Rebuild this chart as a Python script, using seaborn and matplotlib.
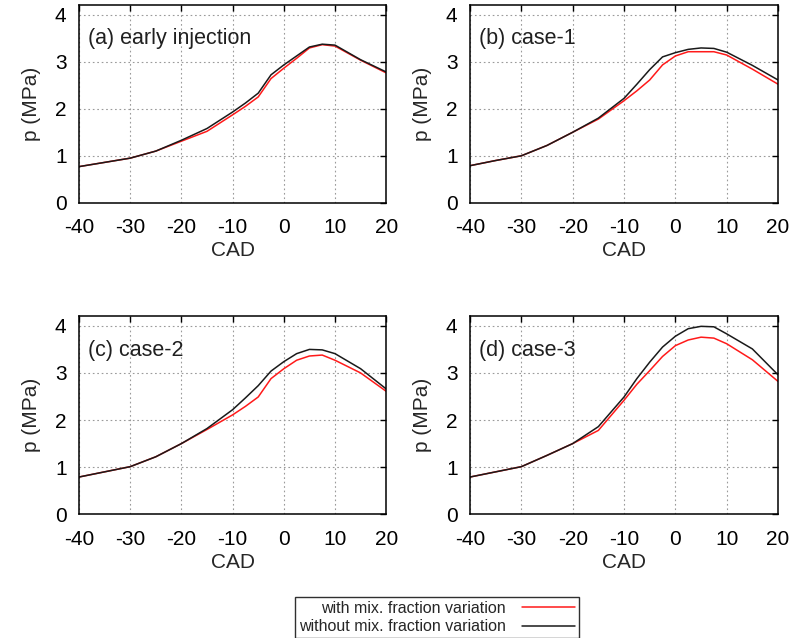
import numpy as np
import pandas as pd
import matplotlib.pyplot as plt
import seaborn as sns

# crank angle positions (CAD)
cad = [-40, -35, -30, -25, -20, -15, -10, -7.5, -5, -2.5, 0, 2.5, 5, 7.5, 10, 15, 20]

# pressure in MPa, red = with mixture fraction variation, black = without
a_with = [0.77, 0.86, 0.95, 1.10, 1.31, 1.52, 1.87, 2.05, 2.25, 2.64, 2.86, 3.07, 3.29, 3.36, 3.33, 3.03, 2.76]
a_without = [0.77, 0.86, 0.95, 1.10, 1.33, 1.58, 1.93, 2.12, 2.33, 2.72, 2.93, 3.12, 3.31, 3.37, 3.35, 3.04, 2.78]
b_with = [0.79, 0.90, 1.00, 1.22, 1.50, 1.78, 2.17, 2.38, 2.61, 2.93, 3.12, 3.21, 3.21, 3.21, 3.14, 2.84, 2.52]
b_without = [0.79, 0.90, 1.00, 1.22, 1.50, 1.80, 2.22, 2.52, 2.83, 3.10, 3.19, 3.26, 3.29, 3.28, 3.20, 2.92, 2.61]
c_with = [0.79, 0.90, 1.01, 1.22, 1.50, 1.80, 2.11, 2.29, 2.49, 2.88, 3.09, 3.27, 3.36, 3.38, 3.27, 3.00, 2.61]
c_without = [0.79, 0.90, 1.01, 1.22, 1.50, 1.82, 2.22, 2.47, 2.73, 3.04, 3.24, 3.41, 3.50, 3.49, 3.41, 3.09, 2.66]
d_with = [0.79, 0.90, 1.01, 1.25, 1.50, 1.78, 2.42, 2.76, 3.05, 3.35, 3.58, 3.70, 3.76, 3.74, 3.62, 3.28, 2.82]
d_without = [0.79, 0.90, 1.01, 1.25, 1.50, 1.86, 2.49, 2.88, 3.23, 3.55, 3.78, 3.94, 3.99, 3.98, 3.83, 3.51, 2.96]

panel_labels = ['(a) early injection', '(b) case-1', '(c) case-2', '(d) case-3']
series_names = ['with mix. fraction variation', 'without mix. fraction variation']
x_ticks = [-40, -30, -20, -10, 0, 10, 20]
y_ticks = [0, 1, 2, 3, 4]

sns.set_style('white')
plt.rcParams['font.family'] = ['Liberation Sans', 'DejaVu Sans']
plt.rcParams['axes.unicode_minus'] = False

fig = plt.figure(figsize=(7.98, 6.38), dpi=100)

positions = [
    [0.099, 0.682, 0.385, 0.310],
    [0.589, 0.682, 0.386, 0.310],
    [0.099, 0.194, 0.385, 0.310],
    [0.589, 0.194, 0.386, 0.310],
]
data = [(a_with, a_without), (b_with, b_without), (c_with, c_without), (d_with, d_without)]

for pos, label, (p_with, p_without) in zip(positions, panel_labels, data):
    ax = fig.add_axes(pos)
    df = pd.DataFrame({
        'CAD': cad * 2,
        'p': p_with + p_without,
        'series': [series_names[0]] * len(cad) + [series_names[1]] * len(cad),
    })
    sns.lineplot(data=df, x='CAD', y='p', hue='series', hue_order=series_names,
                 palette=['#ff1a1a', '#1a1a1a'], linewidth=1.1, ax=ax, legend=False)
    ax.set_xlim(-40, 20)
    ax.set_ylim(0, 4.2)
    ax.set_xticks(x_ticks)
    ax.set_yticks(y_ticks)
    ax.tick_params(axis='x', pad=11)
    ax.tick_params(axis='y', pad=9)
    ax.tick_params(direction='in', length=4, width=1, top=True, right=True,
                   labelsize=15, colors='black')
    ax.grid(True, color='#9a9a9a', linestyle=(0, (1.5, 2.5)), linewidth=0.8)
    for s in ax.spines.values():
        s.set_color('black')
        s.set_linewidth(1.1)
    ax.set_xlabel('CAD', fontsize=15, labelpad=3)
    ax.set_ylabel('p (MPa)', fontsize=15, labelpad=10)
    ax.text(0.03, 0.83, label, transform=ax.transAxes, fontsize=15.5,
            va='center', ha='left', color='#202020')

handles = fig.axes[0].get_lines()[:2]
leg = fig.legend(handles, series_names, loc='upper center',
                 bbox_to_anchor=(437 / 798, 1 - 597 / 638), markerfirst=False,
                 fontsize=11.5, handlelength=3.3, frameon=True, fancybox=False,
                 edgecolor='#303030', framealpha=1, borderpad=0.25,
                 labelspacing=0.2, handletextpad=1.0, borderaxespad=0)
leg.get_frame().set_linewidth(1.0)

fig.savefig('out.png', dpi=100)
